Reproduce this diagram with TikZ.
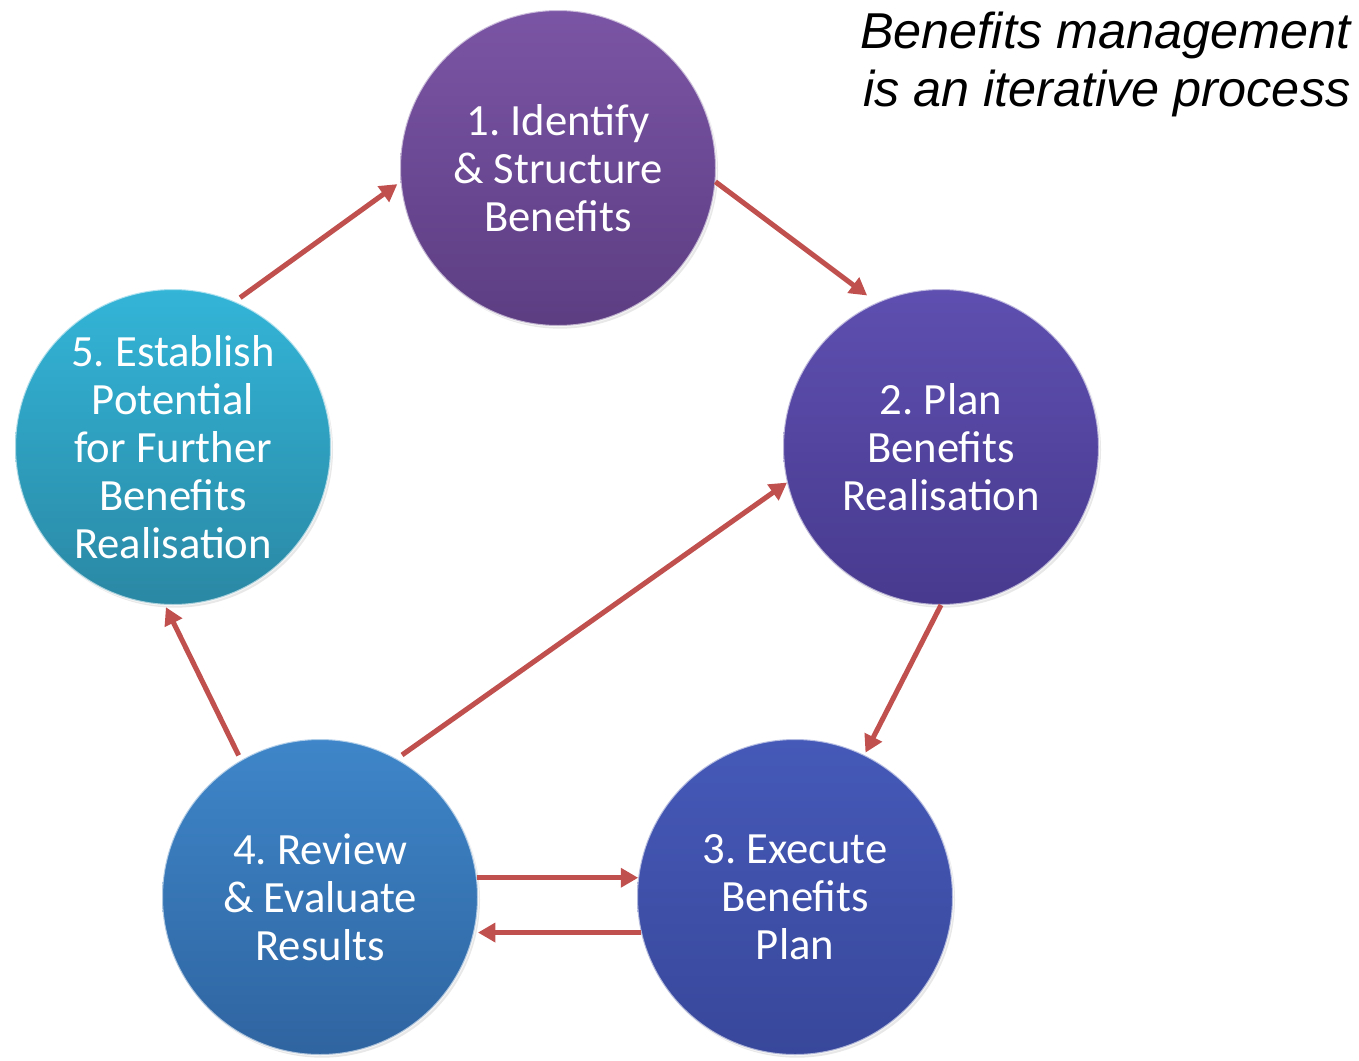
\documentclass[tikz,border=0pt]{standalone}
\usepackage{fontspec}
\setmainfont{Liberation Sans}
\newfontfamily\circfont{Carlito}
\usetikzlibrary{arrows.meta,shadows}
\frenchspacing

\definecolor{stepOneTop}{HTML}{7B55A5}
\definecolor{stepOneBot}{HTML}{5C3D82}
\definecolor{stepTwoTop}{HTML}{5E4FB0}
\definecolor{stepTwoBot}{HTML}{473A8E}
\definecolor{stepThreeTop}{HTML}{4559B8}
\definecolor{stepThreeBot}{HTML}{38479A}
\definecolor{stepFourTop}{HTML}{3E86C9}
\definecolor{stepFourBot}{HTML}{2F64A0}
\definecolor{stepFiveTop}{HTML}{33B5D8}
\definecolor{stepFiveBot}{HTML}{2A88A4}
\definecolor{flowRed}{HTML}{C0504D}

\tikzset{every picture/.style={line width=0.75pt}}
\tikzset{
  stepcircle/.style={circle, minimum size=237pt, inner sep=0pt, outer sep=0pt,
    draw=white, draw opacity=0.6, line width=1.5pt, text=white, align=center,
    drop shadow={shadow xshift=1.5pt, shadow yshift=-2pt, opacity=0.18},
    font={\circfont\fontsize{33.5}{36}\selectfont}},
  flowarrow/.style={draw=flowRed, line width=3.8pt,
    -{Triangle[length=13pt,width=14pt]}}
}

\begin{document}
\begin{tikzpicture}[x=0.75pt,y=0.75pt,yscale=-1,xscale=1]
%set diagram left start at 0, and has height of 1060
\useasboundingbox (0,0) rectangle (1359,1060);

%Shape: Circle 1
\node [stepcircle, top color=stepOneTop, bottom color=stepOneBot] (c1) at (558,168) {1. Identify\\\& Structure\\Benefits};
%Shape: Circle 2
\node [stepcircle, top color=stepTwoTop, bottom color=stepTwoBot] (c2) at (941,447) {2. Plan\\Benefits\\Realisation};
%Shape: Circle 3
\node [stepcircle, top color=stepThreeTop, bottom color=stepThreeBot] (c3) at (795,897) {3. Execute\\Benefits\\Plan};
%Shape: Circle 4
\node [stepcircle, top color=stepFourTop, bottom color=stepFourBot] (c4) at (320,897) {4. Review\\\& Evaluate\\Results};
%Shape: Circle 5
\node [stepcircle, top color=stepFiveTop, bottom color=stepFiveBot] (c5) at (173,447) {5. Establish\\Potential\\for Further\\Benefits\\Realisation};

%Straight Lines
\draw [flowarrow, shorten >=9pt] (c1.-5) -- (c2.114);
\draw [flowarrow, shorten >=2pt] (c2.270) -- (c3.64);
\draw [flowarrow] (c4.7) -- (c3.173);
\draw [flowarrow, shorten >=3pt] (c3.193) -- (c4.347);
\draw [flowarrow, shorten <=5pt] (c4.61) -- (c2.193);
\draw [flowarrow, shorten <=4pt, shorten >=2pt] (c4.120) -- (c5.267);
\draw [flowarrow, shorten <=5pt, shorten >=3pt] (c5.67) -- (c1.185);

% Text Node
\node [anchor=north east, align=right, inner sep=0pt, font={\itshape\fontsize{37.8}{43.5}\selectfont}] (title) at (1351,11) {Benefits management\\is an iterative process};

\end{tikzpicture}
\end{document}
